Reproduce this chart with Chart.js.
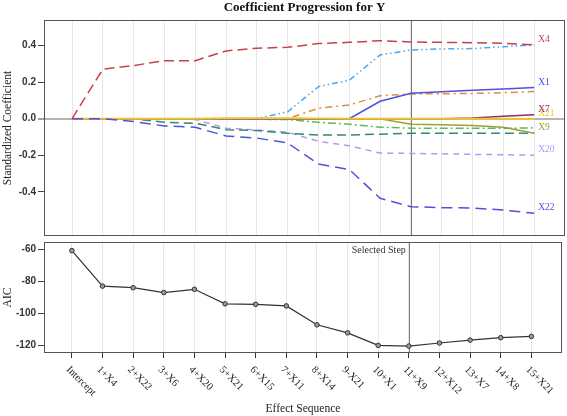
<!DOCTYPE html>
<html>
<head>
<meta charset="utf-8">
<title>Coefficient Progression for Y</title>
<script src="https://cdn.jsdelivr.net/npm/chart.js@4.4.1/dist/chart.umd.min.js"></script>
<style>
    body { margin: 0; background: #fff; }
    #wrap { position: relative; width: 567px; height: 416px; }
    canvas { position: absolute; left: 0; }
    #coefChart { top: 0; }
    #aicChart { top: 237px; }
</style>
</head>
<body>
<div id="wrap">
    <canvas id="coefChart" width="567" height="237"></canvas>
    <canvas id="aicChart" width="567" height="179"></canvas>
</div>
<script>
// effect sequence (x axis)
const steps = ['Intercept', '1+X4', '2+X22', '3+X6', '4+X20', '5+X21', '6+X15', '7+X11',
    '8+X14', '9-X21', '10+X1', '11+X9', '12+X12', '13+X7', '14+X8', '15+X21'];
const selectedStep = 11;

// tick labels
const coefTicks = [-0.4, -0.2, 0, 0.2, 0.4];
const aicTicks = [-120, -100, -80, -60];

// standardized coefficients per step
const x4 = [0, 0.27, 0.29, 0.317, 0.317, 0.37, 0.385, 0.39, 0.41, 0.417, 0.426, 0.419, 0.417, 0.415, 0.412, 0.403];
const x22 = [0, 0, -0.016, -0.04, -0.047, -0.095, -0.106, -0.133, -0.248, -0.278, -0.435, -0.481, -0.486, -0.488, -0.499, -0.517];
const x1 = [0, 0, 0, 0, 0, 0, 0, 0, 0, 0, 0.095, 0.139, 0.147, 0.155, 0.162, 0.17];
const x21 = [0, 0, 0, 0, 0, 0.002, 0.002, 0.002, 0.001, 0, 0, 0, 0, 0, 0, -0.002];
const x11 = [0, 0, 0, 0, 0, 0, 0, 0.038, 0.175, 0.21, 0.348, 0.375, 0.381, 0.383, 0.393, 0.403];
const x14 = [0, 0, 0, 0, 0, 0, 0, 0, 0.057, 0.075, 0.125, 0.135, 0.136, 0.138, 0.142, 0.148];
const x7 = [0, 0, 0, 0, 0, 0, 0, 0, 0, 0, 0, 0, 0, 0.004, 0.013, 0.022];
const x9 = [0, 0, 0, 0, 0, 0, 0, 0, 0, 0, 0, -0.03, -0.033, -0.037, -0.047, -0.08];
const x15 = [0, 0, 0, 0, 0, 0, -0.003, -0.005, -0.02, -0.03, -0.047, -0.052, -0.052, -0.053, -0.053, -0.05];
const x6 = [0, 0, 0, -0.02, -0.025, -0.06, -0.065, -0.08, -0.089, -0.089, -0.085, -0.08, -0.08, -0.08, -0.08, -0.08];
const x20 = [0, 0, 0, 0, -0.005, -0.052, -0.062, -0.074, -0.124, -0.148, -0.188, -0.19, -0.192, -0.195, -0.197, -0.2];

// AIC per step
const aic = [-61, -83, -84, -87, -85, -94, -94.3, -95.3, -107, -112, -119.8, -120.2, -118.3, -116.5, -115, -114.2];

// series that get a name at the right end
const labelled = ['X4', 'X1', 'X7', 'X21', 'X9', 'X20', 'X22'];

const serif = '"Liberation Serif", "Times New Roman", serif';
const sans = '"Liberation Sans", Arial, sans-serif';

function line(label, data, color, dash, width) {
    return {
        label,
        data: data.map((v, i) => ({ x: i, y: v })),
        borderColor: color,
        borderDash: dash || [],
        borderWidth: width || 1.5,
        pointRadius: 0,
        tension: 0,
        fill: false
    };
}

// shared x scale: one grid line per step, frame a bit wider than the steps
function xScale(extra) {
    return Object.assign({
        type: 'linear',
        min: -0.91,
        max: 16.0,
        afterBuildTicks: (scale) => {
            scale.ticks = steps.map((s, i) => ({ value: i }));
        },
        ticks: { display: false },
        border: { display: false }
    }, extra);
}

// frame round the plot and the selected-step line
const frame = {
    id: 'frame',
    beforeDatasetsDraw(chart) {
        const { ctx, chartArea: a, scales: { x } } = chart;
        const sx = Math.round(x.getPixelForValue(selectedStep)) + 0.5;
        ctx.save();
        ctx.strokeStyle = '#7a7a7a';
        ctx.lineWidth = 1;
        ctx.beginPath();
        ctx.moveTo(sx, a.top);
        ctx.lineTo(sx, a.bottom);
        ctx.stroke();
        ctx.restore();
    },
    afterDraw(chart) {
        const { ctx, chartArea: a } = chart;
        ctx.save();
        ctx.strokeStyle = '#555';
        ctx.lineWidth = 1;
        ctx.strokeRect(Math.round(a.left) + 0.5, Math.round(a.top) + 0.5,
            Math.round(a.right - a.left) - 1, Math.round(a.bottom - a.top) - 1);
        ctx.restore();
    }
};

const endLabels = {
    id: 'endLabels',
    afterDatasetsDraw(chart) {
        const { ctx } = chart;
        ctx.save();
        ctx.font = '9.5px ' + serif;
        ctx.textAlign = 'left';
        ctx.textBaseline = 'middle';
        chart.data.datasets.forEach((ds, i) => {
            if (!labelled.includes(ds.label)) return;
            const pts = chart.getDatasetMeta(i).data;
            const last = pts[pts.length - 1];
            ctx.fillStyle = ds.borderColor;
            ctx.fillText(ds.label, last.x + 4, last.y - 5.5);
        });
        ctx.restore();
    }
};

// slanted step names under the AIC panel
const stepLabels = {
    id: 'stepLabels',
    afterDraw(chart) {
        const { ctx, chartArea: a, scales: { x } } = chart;
        ctx.save();
        ctx.font = '10.5px ' + serif;
        ctx.fillStyle = '#222';
        ctx.textAlign = 'left';
        ctx.textBaseline = 'middle';
        steps.forEach((s, i) => {
            ctx.save();
            ctx.translate(x.getPixelForValue(i) - 4, a.bottom + 15);
            ctx.rotate(Math.PI / 4);
            ctx.fillText(s, 0, 0);
            ctx.restore();
        });
        ctx.font = '10px ' + serif;
        ctx.fillStyle = '#333';
        ctx.textAlign = 'right';
        ctx.fillText('Selected Step', x.getPixelForValue(selectedStep) - 3, a.top + 8);
        ctx.restore();
    }
};

const fixY = (scale) => {
    scale.width = 43;
    scale.paddingTop = 0;
    scale.paddingBottom = 0;
};

const yTickFont = { family: sans, size: 10, weight: 'bold' };

// first dataset is drawn on top
const coefChart = new Chart(document.getElementById('coefChart'), {
    type: 'line',
    data: {
        datasets: [
            line('X4', x4, '#c8404c', [10, 5]),
            line('X22', x22, '#5050dc', [11, 6]),
            line('X21', x21, '#f2c12e', [], 2),
            line('X1', x1, '#4f4fe0', []),
            line('X11', x11, '#4aa8f2', [6, 3, 1.5, 3, 1.5, 3]),
            line('X14', x14, '#e08c3a', [7, 4, 2, 4]),
            line('X7', x7, '#8a2f6a', []),
            line('X9', x9, '#9aa03a', []),
            line('X15', x15, '#62b85a', [8, 3, 2, 3]),
            line('X6', x6, '#2f8a78', [9, 5]),
            line('X20', x20, '#b696f2', [6, 5])
        ]
    },
    options: {
        responsive: false,
        animation: false,
        layout: { padding: { left: 1, right: 2, top: 0, bottom: 1 } },
        plugins: {
            legend: { display: false },
            tooltip: { enabled: false },
            title: {
                display: true,
                fullSize: false,
                text: 'Coefficient Progression for Y',
                color: '#111',
                font: { family: serif, size: 13, weight: 'bold', lineHeight: 1.2 },
                padding: { top: 0, bottom: 4.4 }
            }
        },
        scales: {
            x: xScale({
                grid: { color: '#e6e6e6', drawTicks: false },
                afterFit: (scale) => { scale.height = 0; scale.paddingLeft = 0; scale.paddingRight = 0; }
            }),
            y: {
                min: -0.641,
                max: 0.539,
                afterBuildTicks: (scale) => { scale.ticks = coefTicks.map(v => ({ value: v })); },
                afterFit: fixY,
                ticks: {
                    color: '#333',
                    font: yTickFont,
                    padding: 2,
                    callback: (v) => v.toFixed(1)
                },
                grid: {
                    color: (c) => (c.tick && c.tick.value === 0 ? '#b4b4b4' : 'rgba(0,0,0,0)'),
                    lineWidth: (c) => (c.tick && c.tick.value === 0 ? 2 : 1),
                    tickColor: '#444',
                    tickWidth: 1,
                    tickLength: 6
                },
                border: { display: false },
                title: {
                    display: true,
                    text: 'Standardized Coefficient',
                    color: '#222',
                    font: { family: serif, size: 11.5 },
                    padding: 0
                }
            }
        }
    },
    plugins: [frame, endLabels]
});

const aicChart = new Chart(document.getElementById('aicChart'), {
    type: 'line',
    data: {
        datasets: [{
            label: 'AIC',
            data: aic.map((v, i) => ({ x: i, y: v })),
            borderColor: '#333',
            borderWidth: 1.2,
            pointRadius: 2.3,
            pointBorderWidth: 1,
            pointBackgroundColor: '#9a9a9a',
            pointBorderColor: '#333',
            tension: 0
        }]
    },
    options: {
        responsive: false,
        animation: false,
        layout: { padding: { left: 1, right: 2, top: 5, bottom: 0 } },
        plugins: {
            legend: { display: false },
            tooltip: { enabled: false }
        },
        scales: {
            x: xScale({
                grid: { color: '#e6e6e6', drawTicks: true, tickLength: 5, tickColor: '#333' },
                afterFit: (scale) => { scale.height = 63; scale.paddingLeft = 0; scale.paddingRight = 0; },
                title: {
                    display: true,
                    text: 'Effect Sequence',
                    color: '#222',
                    font: { family: serif, size: 11.5 },
                    padding: 0
                }
            }),
            y: {
                min: -124.5,
                max: -55.65,
                afterBuildTicks: (scale) => { scale.ticks = aicTicks.map(v => ({ value: v })); },
                afterFit: fixY,
                ticks: { color: '#333', font: yTickFont, padding: 2 },
                grid: {
                    color: 'rgba(0,0,0,0)',
                    tickColor: '#444',
                    tickWidth: 1,
                    tickLength: 6
                },
                border: { display: false },
                title: {
                    display: true,
                    text: 'AIC',
                    color: '#222',
                    font: { family: serif, size: 11.5 },
                    padding: 0
                }
            }
        }
    },
    plugins: [frame, stepLabels]
});
</script>
</body>
</html>
